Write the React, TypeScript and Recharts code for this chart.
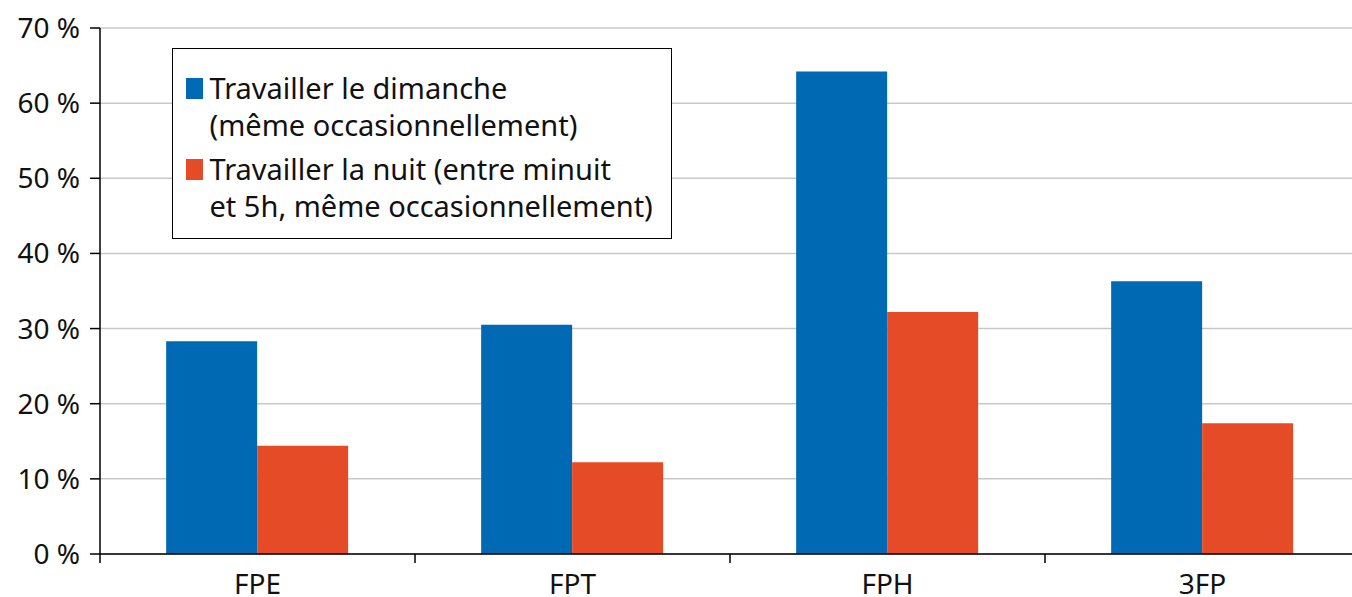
import { BarChart, Bar, XAxis, YAxis, CartesianGrid, Legend } from 'recharts'

const categories = ['FPE', 'FPT', 'FPH', '3FP']
const dimanche = [28.3, 30.5, 64.2, 36.3]
const nuit = [14.4, 12.2, 32.2, 17.4]
const yTicks = [0, 10, 20, 30, 40, 50, 60, 70]

const seriesKeys = ['dimanche', 'nuit'] as const
const seriesNames = {
  dimanche: ['Travailler le dimanche', '(même occasionnellement)'],
  nuit: ['Travailler la nuit (entre minuit', 'et 5h, même occasionnellement)'],
}

const data = categories.map((c, i) => ({ name: c, dimanche: dimanche[i], nuit: nuit[i] }))

const FONT = '"Noto Sans", sans-serif'
const BLUE = '#0069b4'
const RED = '#e54b27'
const CHART_W = 1360
const PLOT_LEFT = 100
const HALF_BAND = (CHART_W - PLOT_LEFT) / categories.length / 2

function CategoryTick(props: any) {
  const { x, y, payload } = props
  return (
    <g>
      <line x1={x - HALF_BAND} x2={x - HALF_BAND} y1={y} y2={y + 9} stroke="#000" strokeWidth={1.5} />
      <text x={x} y={y + 40} textAnchor="middle" fontSize={28} fontFamily={FONT} fill="#111">
        {payload.value}
      </text>
    </g>
  )
}

function LegendBox(props: any) {
  const items = props.payload || []
  // keep series order (Recharts sorts legend items by name otherwise)
  const ordered = seriesKeys
    .map((k) => items.find((it: any) => it.dataKey === k))
    .filter(Boolean)
  return (
    <div
      style={{
        width: 500,
        height: 191,
        border: '1.5px solid #000',
        background: '#fff',
        fontFamily: FONT,
        fontSize: 29,
        color: '#111',
        boxSizing: 'border-box',
        paddingTop: 19.5,
      }}
    >
      {ordered.map((it: any, i: number) => {
        const lines = seriesNames[it.dataKey as 'dimanche' | 'nuit']
        return (
          <div key={i} style={{ position: 'relative', paddingLeft: 36.5, lineHeight: '37px', marginBottom: 7 }}>
            <span
              style={{
                position: 'absolute',
                left: 12.5,
                top: 9,
                width: 17,
                height: 21,
                background: it.color,
              }}
            />
            {lines.map((l, j) => (
              <div key={j} style={{ whiteSpace: 'nowrap' }}>{l}</div>
            ))}
          </div>
        )
      })}
    </div>
  )
}

export default function App() {
  return (
    <div style={{ position: 'absolute', left: 0, top: 0, width: 1352, height: 597, overflow: 'hidden', background: '#fff' }}>
      <BarChart
        width={CHART_W}
        height={597}
        data={data}
        margin={{ top: 28, right: 0, left: 0, bottom: 0 }}
        barCategoryGap="21%"
        barGap={0}
      >
        <CartesianGrid vertical={false} stroke="#c8c8c8" strokeWidth={1.5} />
        <XAxis
          dataKey="name"
          height={43}
          tickLine={false}
          tickSize={0}
          tickMargin={0}
          axisLine={{ stroke: '#000', strokeWidth: 1.5 }}
          tick={<CategoryTick />}
          interval={0}
        />
        <YAxis
          width={PLOT_LEFT}
          domain={[0, 70]}
          ticks={yTicks}
          interval={0}
          tickFormatter={(v: number) => `${v} %`}
          tick={{ fontSize: 28, fill: '#111', fontFamily: FONT }}
          tickSize={10}
          tickMargin={10}
          tickLine={{ stroke: '#000', strokeWidth: 1.5 }}
          axisLine={{ stroke: '#000', strokeWidth: 1.5 }}
        />
        <Legend
          layout="vertical"
          align="center"
          verticalAlign="middle"
          content={<LegendBox />}
          wrapperStyle={{ left: 172, top: 48, width: 500 }}
        />
        <Bar dataKey="dimanche" name={seriesNames.dimanche.join(' ')} fill={BLUE} isAnimationActive={false} />
        <Bar dataKey="nuit" name={seriesNames.nuit.join(' ')} fill={RED} isAnimationActive={false} />
      </BarChart>
    </div>
  )
}
